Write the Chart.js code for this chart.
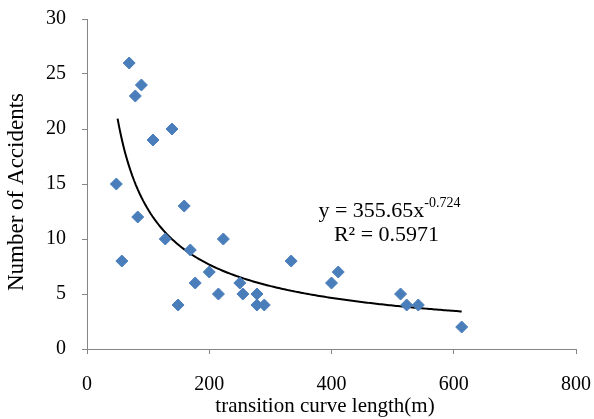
<!DOCTYPE html>
<html><head><meta charset="utf-8">
<script src="https://cdn.jsdelivr.net/npm/chart.js@4/dist/chart.umd.min.js"></script>
<style>html,body{margin:0;padding:0;background:#fff}#wrap{width:594px;height:419px}</style>
</head><body><div id="wrap"><canvas id="c" width="594" height="419"></canvas></div>
<script>
const curveLength = [48,57,69,79,89,83,108,128,139,159,149,169,177,200,215,223,250,255,278,278,290,334,400,411,513,523,542,613];
const accidents   = [15,8,26,23,24,12,19,10,20,13,4,9,6,7,5,10,6,5,5,4,4,8,6,7,5,4,4,2];
const fitA = 355.65, fitB = -0.724;
const fitRange = [50, 613];
const xTicks = [0,200,400,600,800];
const yTicks = [0,5,10,15,20,25,30];
const xTitle = 'transition curve length(m)';
const yTitle = 'Number of Accidents';

const fitX = [];
for (let x = fitRange[0]; x < fitRange[1]; x += 3) fitX.push(x);
fitX.push(fitRange[1]);
const fitPts = fitX.map(x => ({x, y: fitA * Math.pow(x, fitB)}));
const pts = curveLength.map((x,i)=>({x, y: accidents[i]}));

const textPlugin = {
  id:'txt',
  afterDraw(chart){
    const ctx = chart.ctx;
    ctx.save();
    ctx.fillStyle = '#000';
    const main = 'y = 355.65x', sup = '-0.724';
    ctx.font = '22px "Liberation Serif"';
    const w1 = ctx.measureText(main).width;
    ctx.font = '14px "Liberation Serif"';
    const w2 = ctx.measureText(sup).width;
    const startX = 389.5 - (w1 + w2)/2;
    ctx.textBaseline = 'alphabetic';
    ctx.textAlign = 'left';
    ctx.font = '22px "Liberation Serif"';
    ctx.fillText(main, startX, 217);
    ctx.font = '14px "Liberation Serif"';
    ctx.fillText(sup, startX + w1, 207);
    ctx.font = '22px "Liberation Serif"';
    ctx.textAlign = 'center';
    ctx.fillText('R\u00B2 = 0.5971', 386.5, 241);
    ctx.font = '21px "Liberation Serif"';
    ctx.textBaseline = 'middle';
    ctx.fillText(xTitle, 325, 406);
    ctx.translate(17, 192);
    ctx.rotate(-Math.PI/2);
    ctx.font = '23px "Liberation Serif"';
    ctx.fillText(yTitle, 0, 0);
    ctx.restore();
  }
};

new Chart(document.getElementById('c'), {
  type:'scatter',
  data:{datasets:[
    {label:'data', data:pts, backgroundColor:'#4A7EBB', borderColor:'#4A7EBB', pointStyle:'rectRot', pointRadius:6, pointHoverRadius:6, order:1},
    {label:'fit', type:'line', data:fitPts, borderColor:'#000', borderWidth:2, pointRadius:0, fill:false, tension:0, order:2}
  ]},
  options:{
    responsive:false, animation:false,
    layout:{padding:{top:19,right:18,left:0,bottom:0}},
    plugins:{legend:{display:false}, tooltip:{enabled:false}},
    scales:{
      x:{type:'linear', min:0, max:800,
        afterBuildTicks(s){ s.ticks = xTicks.map(v=>({value:v})); },
        afterFit(s){ s.height = 70; s.paddingLeft = 0; s.paddingRight = 0; },
        grid:{drawOnChartArea:false, drawTicks:true, tickLength:5, color:'#868686'},
        border:{color:'#868686', width:1},
        ticks:{color:'#000', font:{family:'"Liberation Serif"', size:20}, padding:19, maxRotation:0},
        title:{display:false}
      },
      y:{type:'linear', min:0, max:30,
        afterBuildTicks(s){ s.ticks = yTicks.map(v=>({value:v})); },
        afterFit(s){ s.width = 87; s.paddingTop = 0; s.paddingBottom = 0; },
        grid:{drawOnChartArea:false, drawTicks:true, tickLength:5, color:'#868686'},
        border:{color:'#868686', width:1},
        ticks:{color:'#000', font:{family:'"Liberation Serif"', size:20}, padding:16},
        title:{display:false}
      }
    }
  },
  plugins:[textPlugin]
});
</script></body></html>
